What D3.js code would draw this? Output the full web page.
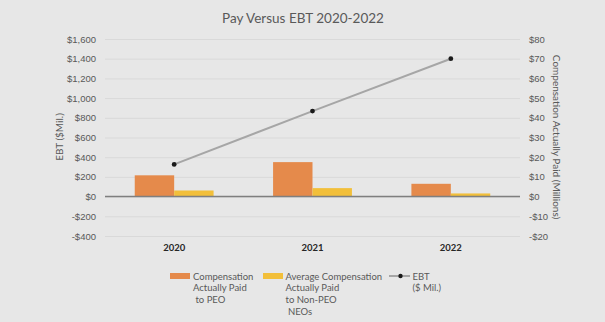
<!DOCTYPE html>
<html><head><meta charset="utf-8">
<script src="https://cdn.jsdelivr.net/npm/d3@7"></script>
<style>
html,body{margin:0;padding:0;background:#e7e7e7;}
svg{display:block;font-family:Lato,"Open Sans",sans-serif;}
</style></head>
<body>
<svg id="chart" width="605" height="322"></svg>
<script>
const years = ["2020", "2021", "2022"];
const capPEO = [10.8, 17.5, 6.5];          // $ millions (right axis)
const capNonPEO = [3.1, 4.3, 1.6];         // $ millions (right axis)
const ebt = [327, 868, 1400];              // $ millions (left axis)
const leftTicks = [-400, -200, 0, 200, 400, 600, 800, 1000, 1200, 1400, 1600];
const rightTicks = [-20, -10, 0, 10, 20, 30, 40, 50, 60, 70, 80];
const titleText = "Pay Versus EBT 2020-2022";
const leftTitle = "EBT ($Mil.)";
const rightTitle = "Compensation Actually Paid (Millions)";
const legendItems = [
  {type:"bar", color:"#e58a4b", lines:["Compensation","Actually Paid"," to PEO"]},
  {type:"bar", color:"#f2bf3a", lines:["Average Compensation","Actually Paid","to Non-PEO"," NEOs"]},
  {type:"line", color:"#a6a6a6", lines:["EBT","($ Mil.)"]}
];

const svg = d3.select("#chart");
const W = 605, H = 322;
svg.append("rect").attr("width", W).attr("height", H).attr("fill", "#e7e7e7");

const x0 = 105, x1 = 520, yTop = 39, yBot = 236;
const yL = d3.scaleLinear().domain([-400, 1600]).range([yBot, yTop]);
const yR = d3.scaleLinear().domain([-20, 80]).range([yBot, yTop]);
const xB = d3.scaleBand().domain(years).range([x0, x1]).paddingInner(0.43).paddingOuter(0.215);
const xS = d3.scaleBand().domain(["peo", "non"]).range([0, xB.bandwidth()]);

// title
svg.append("text").attr("x", 303).attr("y", 23).attr("text-anchor", "middle")
  .attr("font-size", 13.5).attr("fill", "#595959").text(titleText);

const fmtL = v => (v < 0 ? "-$" : "$") + d3.format(",")(Math.abs(v));
const fmtR = v => (v < 0 ? "-$" : "$") + Math.abs(v);

// left axis with gridlines
const gL = svg.append("g").attr("transform", `translate(${x0},0)`)
  .call(d3.axisLeft(yL).tickValues(leftTicks).tickFormat(fmtL).tickSizeInner(-(x1 - x0)).tickSizeOuter(0).tickPadding(9));
gL.select(".domain").remove();
gL.selectAll("line").attr("stroke", "#d9d9d9").attr("stroke-width", 1);
gL.selectAll("text").attr("font-size", 9.5).attr("fill", "#595959");

// right axis
const gR = svg.append("g").attr("transform", `translate(${x1},0)`)
  .call(d3.axisRight(yR).tickValues(rightTicks).tickFormat(fmtR).tickSize(0).tickPadding(9));
gR.select(".domain").remove();
gR.selectAll("text").attr("font-size", 9.5).attr("fill", "#595959");

// axis titles
svg.append("text").attr("transform", `translate(63,137) rotate(-90)`).attr("text-anchor", "middle")
  .attr("font-size", 10).attr("fill", "#595959").text(leftTitle);
svg.append("text").attr("transform", `translate(553,137) rotate(90)`).attr("text-anchor", "middle")
  .attr("font-size", 10).attr("fill", "#595959").text(rightTitle);

// bars
const barG = svg.append("g");
years.forEach((yr, i) => {
  [["peo", capPEO[i], legendItems[0].color], ["non", capNonPEO[i], legendItems[1].color]].forEach(([k, v, c]) => {
    barG.append("rect")
      .attr("x", xB(yr) + xS(k)).attr("width", xS.bandwidth())
      .attr("y", yR(Math.max(0, v))).attr("height", Math.abs(yR(v) - yR(0)))
      .attr("fill", c);
  });
});

// zero line
svg.append("line").attr("x1", x0).attr("x2", x1).attr("y1", yL(0)).attr("y2", yL(0))
  .attr("stroke", "#7f7f7f").attr("stroke-width", 1.5);

// category labels
years.forEach(yr => {
  svg.append("text").attr("x", xB(yr) + xB.bandwidth() / 2).attr("y", 251).attr("text-anchor", "middle")
    .attr("font-size", 9.5).attr("font-weight", "bold").attr("fill", "#262626").text(yr);
});

// EBT line
const cx = yr => xB(yr) + xB.bandwidth() / 2;
const line = d3.line().x((d, i) => cx(years[i])).y(d => yL(d));
svg.append("path").datum(ebt).attr("d", line).attr("fill", "none")
  .attr("stroke", "#a6a6a6").attr("stroke-width", 2);
svg.selectAll(".pt").data(ebt).enter().append("circle")
  .attr("cx", (d, i) => cx(years[i])).attr("cy", d => yL(d)).attr("r", 2.4).attr("fill", "#1a1a1a");

// legend
const legX = [170, 263, 389];
const legTextX = [193, 285.5, 412.5];
legendItems.forEach((it, i) => {
  if (it.type === "bar") {
    svg.append("rect").attr("x", legX[i]).attr("y", 273).attr("width", 20).attr("height", 6).attr("fill", it.color);
  } else {
    svg.append("line").attr("x1", legX[i]).attr("x2", legX[i] + 21).attr("y1", 276).attr("y2", 276)
      .attr("stroke", it.color).attr("stroke-width", 2);
    svg.append("circle").attr("cx", legX[i] + 11.5).attr("cy", 276).attr("r", 2.2).attr("fill", "#1a1a1a");
  }
  const t = svg.append("text").attr("font-size", 9.5).attr("fill", "#595959").attr("xml:space", "preserve");
  it.lines.forEach((ln, j) => {
    t.append("tspan").attr("x", legTextX[i]).attr("y", 279.5 + j * 11.7).text(ln);
  });
});
</script>
</body></html>
